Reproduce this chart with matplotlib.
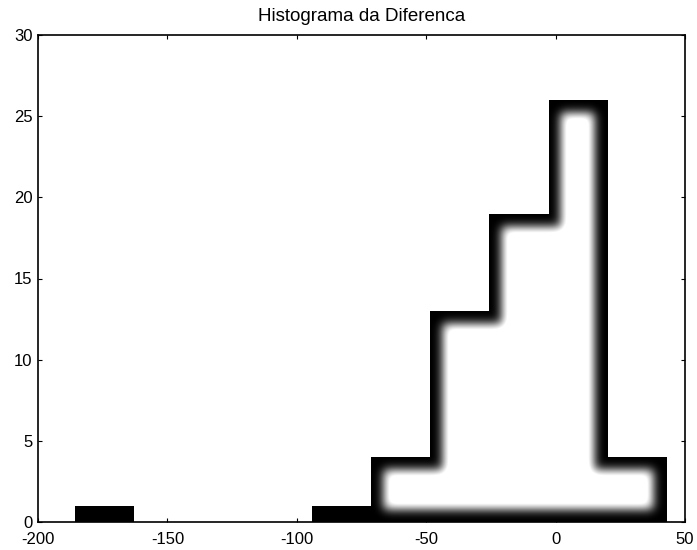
import numpy as np
import matplotlib
matplotlib.use('Agg')
from matplotlib import pyplot as plt

plt.rcParams['font.family'] = ['Liberation Sans Narrow', 'Liberation Sans', 'DejaVu Sans']
plt.rcParams['axes.unicode_minus'] = False

# histograma (10 classes)
counts = [1, 0, 0, 0, 1, 4, 13, 19, 26, 4]
bin_start = -185.7
bin_end = 43.0
x_ticks = [-200, -150, -100, -50, 0, 50]
y_ticks = [0, 5, 10, 15, 20, 25, 30]
title = 'Histograma da Diferenca'

edges = np.linspace(bin_start, bin_end, len(counts) + 1)
width = edges[1] - edges[0]

fig = plt.figure(figsize=(6.97, 5.5), dpi=100)
ax = fig.add_axes([38 / 697, 28 / 550, 647 / 697, 487 / 550])

ax.bar(edges[:-1], counts, width=width, align='edge', color='black', zorder=2)

# interior branco borrado (efeito da imagem escaneada)
nx, ny = 647, 487
xs = np.linspace(-200, 50, nx)
ys = np.linspace(0, 30, ny)
idx = np.clip(np.searchsorted(edges, xs, side='right') - 1, 0, len(counts) - 1)
h = np.where((xs >= edges[0]) & (xs <= edges[-1]), np.array(counts)[idx], 0)
mask = (ys[:, None] < h[None, :]).astype(float)

r = 13
pad = np.pad(mask, r + 1)
cs = pad.cumsum(0).cumsum(1)
k = 2 * r + 1
win = cs[k:, k:] - cs[:-k, k:] - cs[k:, :-k] + cs[:-k, :-k]
inner = (win[:ny, :nx] >= k * k - 0.5).astype(float)

s = 5.0
t = np.arange(-15, 16)
kern = np.exp(-t ** 2 / (2 * s ** 2))
kern /= kern.sum()
blur = np.apply_along_axis(lambda v: np.convolve(v, kern, mode='same'), 1, inner)
blur = np.apply_along_axis(lambda v: np.convolve(v, kern, mode='same'), 0, blur)
blur = np.clip(blur * 1.15, 0, 1)

rgba = np.ones((ny, nx, 4))
rgba[..., 3] = blur
ax.imshow(rgba, extent=(-200, 50, 0, 30), origin='lower', aspect='auto',
          interpolation='bilinear', zorder=3)

ax.set_xlim(-200, 50)
ax.set_ylim(0, 30)
ax.set_xticks(x_ticks)
ax.set_yticks(y_ticks)
ax.tick_params(direction='in', length=3, top=True, right=True, labelsize=12)
ax.tick_params(axis='x', pad=7)
ax.tick_params(axis='y', pad=4)
for sp in ax.spines.values():
    sp.set_linewidth(1.2)
ax.set_title(title, fontsize=13.5, pad=10)

plt.savefig('out.png', dpi=100)
